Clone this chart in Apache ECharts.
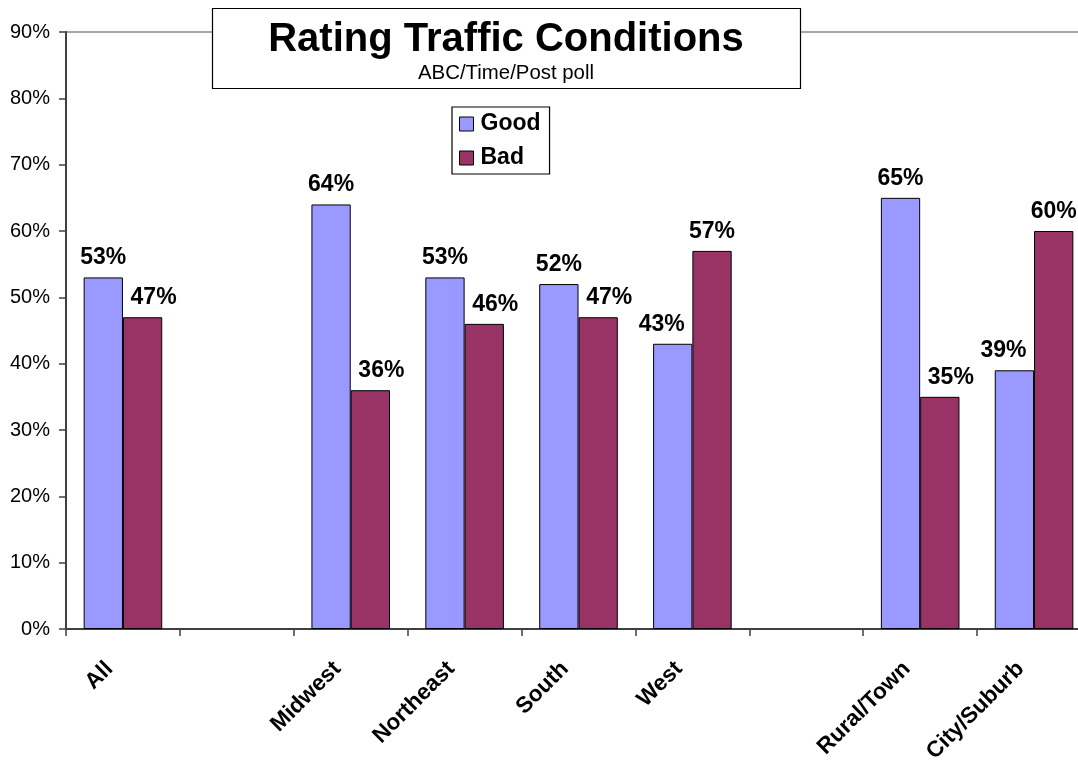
<!DOCTYPE html>
<html>
<head>
<meta charset="utf-8">
<script src="https://cdn.jsdelivr.net/npm/echarts@6/dist/echarts.min.js"></script>
<style>
  html, body { margin: 0; padding: 0; background: #fff; }
  #chart { width: 1078px; height: 760px; }
</style>
</head>
<body>
<div id="chart"></div>
<script>
// Poll results: share rating traffic conditions good / bad, by group
const categories = ['All', '', 'Midwest', 'Northeast', 'South', 'West', '', 'Rural/Town', 'City/Suburb'];
const goodValues = [53, null, 64, 53, 52, 43, null, 65, 39];
const badValues  = [47, null, 36, 46, 47, 57, null, 35, 60];
const yTicks = { min: 0, max: 90, interval: 10 };

const FONT = "'Liberation Sans', Arial, sans-serif";

const chart = echarts.init(document.getElementById('chart'), null, { renderer: 'canvas' });

const labelStyle = {
  show: true,
  position: 'top',
  distance: 8,
  formatter: p => p.value + '%',
  fontFamily: FONT,
  fontWeight: 'bold',
  fontSize: 23,
  color: '#000'
};

// The lower bar of each pair gets its label nudged outward so it clears its neighbour
const SHIFT = 11;
function withLabelShift(values, others, dir) {
  return values.map((v, i) => {
    if (v == null) return v;
    const lower = others[i] != null && v < others[i];
    return lower ? { value: v, label: { offset: [dir * SHIFT, 0] } } : v;
  });
}

chart.setOption({
  animation: false,
  backgroundColor: '#fff',
  grid: {
    left: 66, top: 32, height: 597, width: 1025,
    containLabel: false,
    outerBoundsMode: 'none',
    show: true,
    borderColor: '#8a8a8a',
    borderWidth: 1.5,
    backgroundColor: 'transparent'
  },
  graphic: [{
    type: 'group',
    z: 100,
    children: [
      {
        type: 'rect',
        shape: { x: 212.5, y: 8.5, width: 588, height: 80 },
        style: { fill: '#fff', stroke: '#000', lineWidth: 1.2 }
      },
      {
        type: 'text',
        x: 506, y: 40,
        style: {
          text: 'Rating Traffic Conditions',
          font: "bold 40px " + FONT,
          fill: '#000',
          textAlign: 'center',
          textVerticalAlign: 'middle'
        }
      },
      {
        type: 'text',
        x: 506, y: 73,
        style: {
          text: 'ABC/Time/Post poll',
          font: "20.4px " + FONT,
          fill: '#000',
          textAlign: 'center',
          textVerticalAlign: 'middle'
        }
      }
    ]
  }],
  legend: {
    orient: 'vertical',
    left: 452, top: 107,
    padding: [5, 9, 4, 7],
    itemGap: 10,
    itemWidth: 14, itemHeight: 14,
    icon: 'rect',
    borderColor: '#000', borderWidth: 1.2,
    backgroundColor: '#fff',
    itemStyle: { borderColor: '#000', borderWidth: 1 },
    textStyle: { fontFamily: FONT, fontWeight: 'bold', fontSize: 23, color: '#000', lineHeight: 24, padding: [0, 0, 0, 2] },
    data: ['Good', 'Bad']
  },
  xAxis: {
    type: 'category',
    data: categories,
    axisLine: { lineStyle: { color: '#404040', width: 2 } },
    axisTick: { show: true, length: 7, interval: 0, lineStyle: { color: '#404040', width: 1.5 } },
    axisLabel: {
      interval: 0,
      rotate: 45,
      margin: 23,
      padding: [0, 19, 0, 0],
      fontFamily: FONT,
      fontWeight: 'bold',
      fontSize: 22.5,
      color: '#000'
    },
    splitLine: { show: false }
  },
  yAxis: {
    type: 'value',
    min: yTicks.min, max: yTicks.max, interval: yTicks.interval,
    axisLine: { show: true, lineStyle: { color: '#404040', width: 2 } },
    axisTick: { show: true, length: 7, lineStyle: { color: '#404040', width: 1.5 } },
    axisLabel: {
      formatter: '{value}%',
      margin: 16,
      fontFamily: FONT,
      fontSize: 20,
      color: '#000'
    },
    splitLine: { show: false }
  },
  series: [
    {
      name: 'Good',
      type: 'bar',
      data: withLabelShift(goodValues, badValues, -1),
      barGap: '0%',
      barCategoryGap: '31%',
      itemStyle: { color: '#9999FF', borderColor: '#000', borderWidth: 1 },
      label: labelStyle
    },
    {
      name: 'Bad',
      type: 'bar',
      data: withLabelShift(badValues, goodValues, 1),
      itemStyle: { color: '#993366', borderColor: '#000', borderWidth: 1 },
      label: labelStyle
    }
  ]
});
</script>
</body>
</html>
